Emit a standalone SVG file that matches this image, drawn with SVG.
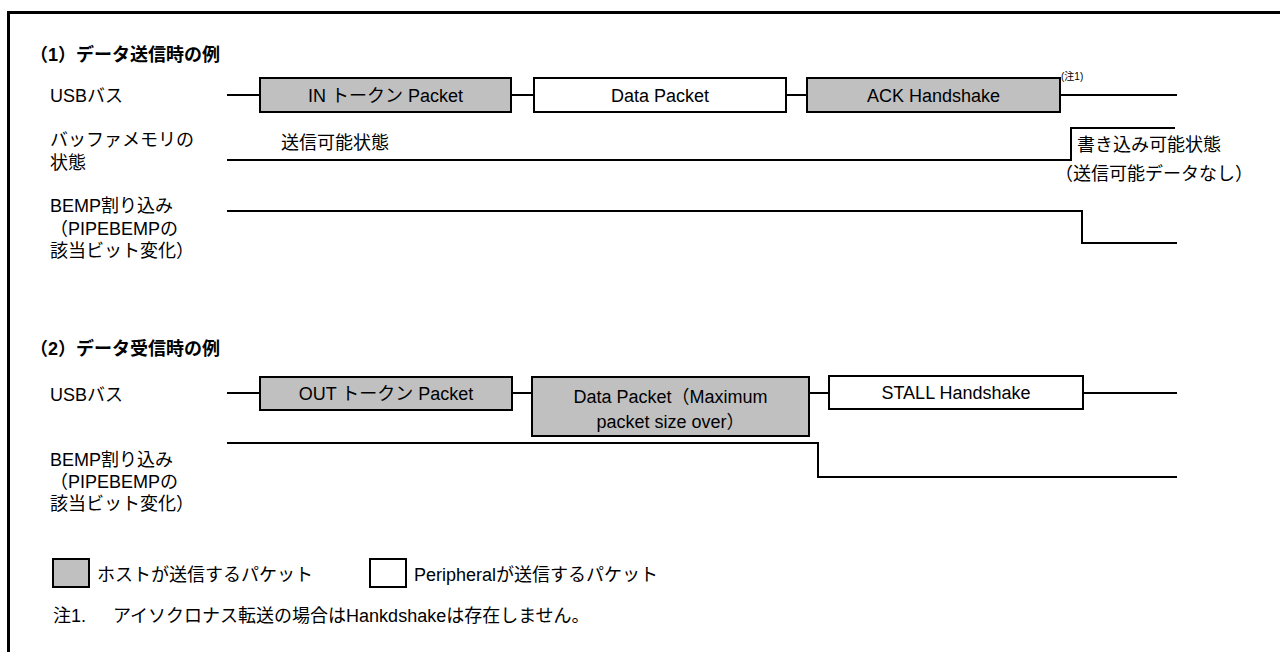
<svg xmlns="http://www.w3.org/2000/svg" width="1280" height="652" viewBox="0 0 1280 652">
<style>
text{font-family:"Liberation Sans","Noto Sans CJK JP",sans-serif;font-size:18px;fill:#000}
.t{font-weight:bold}
.c{text-anchor:middle}
.s{font-size:10px}
.ln{fill:none;stroke:#000;stroke-width:2}
.host{fill:#c0c0c0;stroke:#000;stroke-width:2}
.peri{fill:#fff;stroke:#000;stroke-width:2}
</style>
<rect width="1280" height="652" fill="#fff"/>
<path d="M8.5 652V12.5H1280" fill="none" stroke="#000" stroke-width="3"/>

<g id="labels1">
<text class="t" x="30" y="61">（1）データ送信時の例</text>
<text x="50" y="102">USBバス</text>
<text x="50" y="146">バッファメモリの</text>
<text x="50" y="169">状態</text>
<text x="50" y="212">BEMP割り込み</text>
<text x="50" y="235">（PIPEBEMPの</text>
<text x="50" y="257">該当ビット変化）</text>
</g>

<g id="connectors">
<path class="ln" d="M227 95H260M511 95H534M786 95H807M1060 95H1177"/>
<path class="ln" d="M227 160H1071V128H1175"/>
<path class="ln" d="M227 211H1082V243H1177"/>
<path class="ln" d="M227 393H260M512 393H532M809 393H829M1083 393H1177"/>
<path class="ln" d="M227 443H818V477H1177"/>
</g>

<g id="in-token">
<rect class="host" x="260" y="78" width="251" height="34"/>
<text class="c" x="385.5" y="102">IN トークン Packet</text>
</g>
<g id="data-packet1">
<rect class="peri" x="534" y="78" width="252" height="34"/>
<text class="c" x="660" y="102">Data Packet</text>
</g>
<g id="ack">
<rect class="host" x="807" y="78" width="253" height="34"/>
<text class="c" x="933.5" y="102">ACK Handshake</text>
<text class="s" x="1061" y="80">(注1)</text>
</g>
<g id="buffer-states">
<text x="281" y="149">送信可能状態</text>
<text x="1077" y="151">書き込み可能状態</text>
<text x="1055" y="180">（送信可能データなし）</text>
</g>

<g id="labels2">
<text class="t" x="30" y="355">（2）データ受信時の例</text>
<text x="50" y="401">USBバス</text>
<text x="50" y="466">BEMP割り込み</text>
<text x="50" y="488">（PIPEBEMPの</text>
<text x="50" y="510">該当ビット変化）</text>
</g>

<g id="out-token">
<rect class="host" x="260" y="377" width="252" height="33"/>
<text class="c" x="386" y="400">OUT トークン Packet</text>
</g>
<g id="data-packet2">
<rect class="host" x="532" y="377" width="277" height="59"/>
<text class="c" x="670.5" y="403">Data Packet（Maximum</text>
<text class="c" x="670.5" y="428">packet size over）</text>
</g>
<g id="stall">
<rect class="peri" x="829" y="376" width="254" height="33"/>
<text class="c" x="956" y="399">STALL Handshake</text>
</g>

<g id="legend">
<rect class="host" x="53" y="559" width="36" height="28"/>
<text x="97" y="581">ホストが送信するパケット</text>
<rect class="peri" x="370" y="559" width="36" height="28"/>
<text x="414" y="581">Peripheralが送信するパケット</text>
</g>
<g id="note">
<text x="53" y="622">注1.<tspan x="113">アイソクロナス転送の場合はHankdshakeは存在しません。</tspan></text>
</g>
</svg>
